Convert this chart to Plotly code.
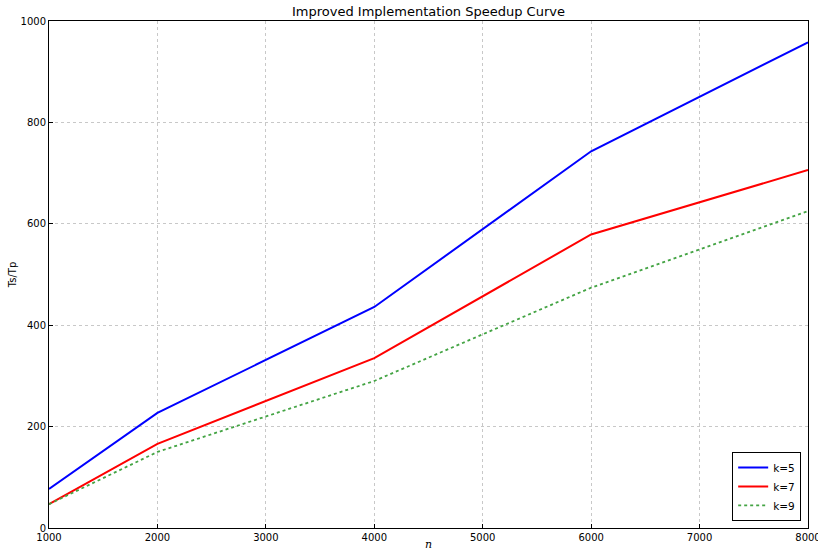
import plotly.graph_objects as go

n_values = [1000, 2000, 4000, 6000, 8000]
speedup_k5 = [77, 227, 436, 743, 958]
speedup_k7 = [47, 166, 335, 579, 706]
speedup_k9 = [47, 150, 290, 474, 625]
x_ticks = [1000, 2000, 3000, 4000, 5000, 6000, 7000, 8000]
y_ticks = [0, 200, 400, 600, 800, 1000]

fig = go.Figure()
fig.add_trace(go.Scatter(x=n_values, y=speedup_k5, mode="lines", name="k=5",
                         line=dict(color="#0000ff", width=2)))
fig.add_trace(go.Scatter(x=n_values, y=speedup_k7, mode="lines", name="k=7",
                         line=dict(color="#ff0000", width=2)))
fig.add_trace(go.Scatter(x=n_values, y=speedup_k9, mode="lines", name="k=9",
                         line=dict(color="#44a444", width=1.8, dash="dot")))

axis_common = dict(showline=True, linecolor="black", linewidth=1, mirror=True,
                   showgrid=True, gridcolor="#c8c8c8", griddash="dot", gridwidth=1,
                   zeroline=False, ticks="inside", ticklen=4, tickcolor="black",
                   automargin=False, ticklabeloverflow="allow",
                   tickfont=dict(family="DejaVu Sans", size=10, color="black"))

fig.update_layout(
    width=818, height=551,
    margin=dict(l=49, r=10, t=21, b=23),
    paper_bgcolor="white", plot_bgcolor="white",
    title=dict(text="Improved Implementation Speedup Curve", x=0.5, xanchor="center",
               xref="paper", y=0.987, yanchor="top",
               font=dict(family="DejaVu Sans", size=13, color="black")),
    xaxis=dict(range=[1000, 8000], tickvals=x_ticks,
               title=dict(text="<i>n</i>", standoff=0,
                          font=dict(family="DejaVu Serif", size=11, color="black")),
               **axis_common),
    yaxis=dict(range=[0, 1000], tickvals=y_ticks,
               title=dict(text="Ts/Tp", standoff=2,
                          font=dict(family="DejaVu Sans", size=10, color="black")),
               **axis_common),
    legend=dict(x=0.991, y=0.014, xanchor="right", yanchor="bottom",
                bgcolor="white", bordercolor="black", borderwidth=1,
                font=dict(family="DejaVu Sans", size=10.5, color="black"),
                itemwidth=30, tracegroupgap=0),
    showlegend=True,
)

fig.write_html("out.html", config={"displayModeBar": False},
               post_script="document.body.style.margin='0';document.body.style.overflow='hidden';")
